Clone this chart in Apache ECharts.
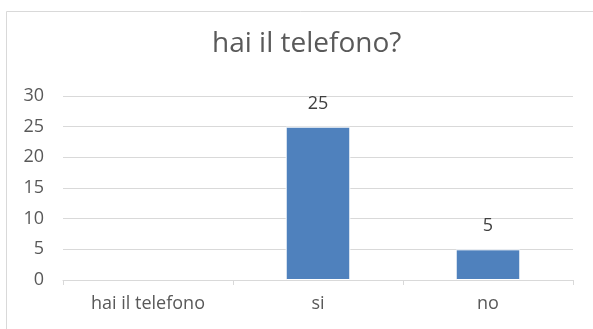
<!DOCTYPE html>
<html><head><meta charset="utf-8">
<script src="https://cdn.jsdelivr.net/npm/echarts@6/dist/echarts.min.js"></script>
<style>html,body{margin:0;padding:0;background:#fff}#c{width:593px;height:329px}</style>
</head><body><div id="c"></div>
<script>
const categories = ['hai il telefono', 'si', 'no'];
const values = [null, 25, 5];
const yTicks = [0, 5, 10, 15, 20, 25, 30];
const titleText = 'hai il telefono?';

const chart = echarts.init(document.getElementById('c'), null, {renderer: 'canvas'});
chart.setOption({
  animation: false,
  backgroundColor: '#fff',
  graphic: [{
    type: 'rect', shape: {x: 6.5, y: 11.5, width: 600, height: 400},
    style: {fill: 'none', stroke: '#d9d9d9', lineWidth: 1}, z: -1
  }],
  title: {
    text: titleText, left: 207, top: 25,
    textStyle: {fontFamily: 'Open Sans', fontSize: 28, fontWeight: 'normal', color: '#595959'}
  },
  grid: {left: 63, right: 20, top: 96, bottom: 49, containLabel: false},
  xAxis: {
    type: 'category', data: categories,
    axisLine: {lineStyle: {color: '#d9d9d9'}},
    axisTick: {show: true, alignWithLabel: false, length: 5, lineStyle: {color: '#d9d9d9'}},
    axisLabel: {color: '#595959', fontFamily: 'Open Sans', fontSize: 18, margin: 15}
  },
  yAxis: {
    type: 'value', min: yTicks[0], max: yTicks[yTicks.length - 1], interval: 5,
    axisLine: {show: false}, axisTick: {show: false},
    splitLine: {lineStyle: {color: '#d9d9d9'}},
    axisLabel: {color: '#595959', fontFamily: 'Open Sans', fontSize: 18, margin: 19}
  },
  series: [{
    type: 'bar', data: values, barWidth: '38%',
    itemStyle: {color: '#4f81bd', borderColor: '#ffffff', borderWidth: 1},
    label: {show: true, position: 'top', distance: 14, color: '#404040', fontFamily: 'Open Sans', fontSize: 18}
  }]
});
</script></body></html>
